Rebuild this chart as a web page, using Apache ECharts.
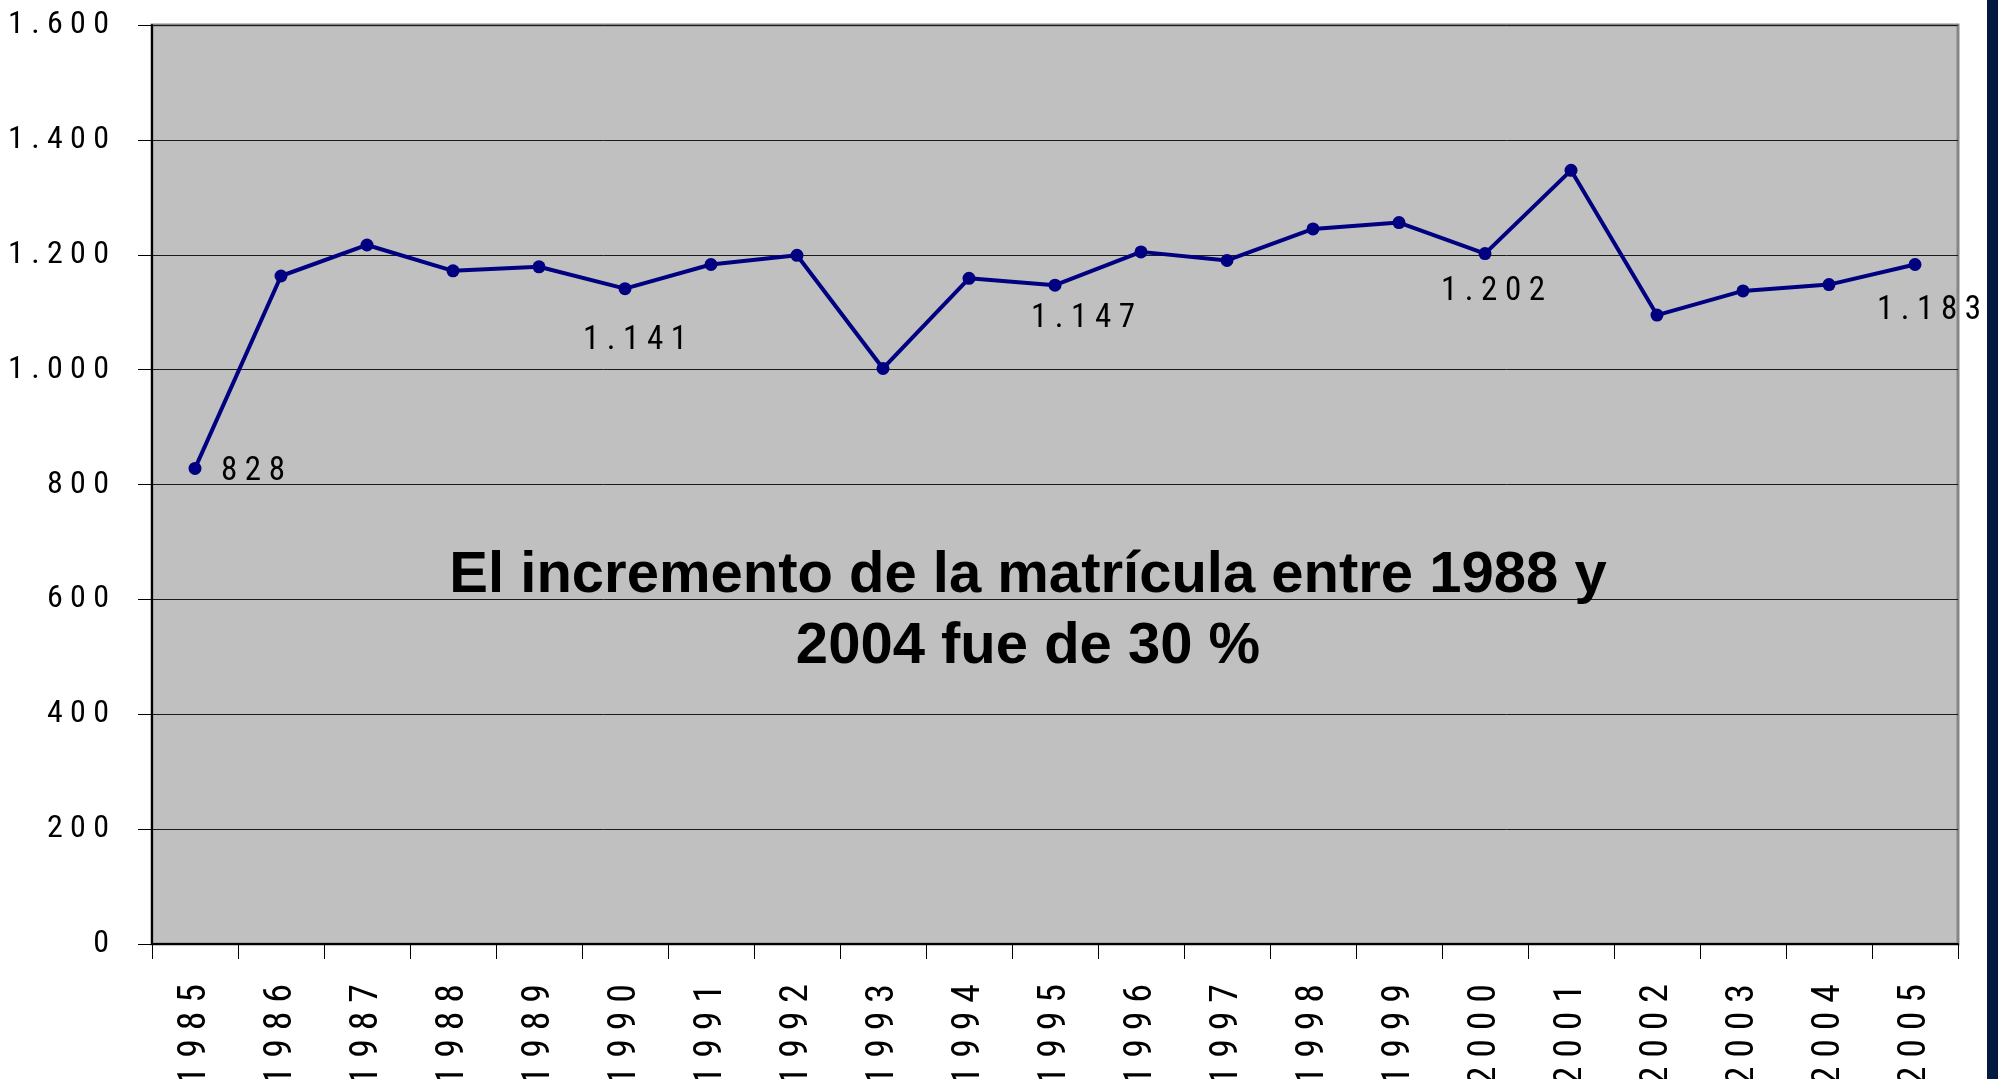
<!DOCTYPE html>
<html>
<head>
<meta charset="utf-8">
<script src="https://cdn.jsdelivr.net/npm/echarts@6/dist/echarts.min.js"></script>
<style>
	html, body { margin: 0; padding: 0; background: #ffffff; }
	#main { width: 1998px; height: 1079px; }
</style>
</head>
<body>
<div id="main"></div>
<script>
	// años y matrícula (lectura del gráfico)
	var years = ['1985', '1986', '1987', '1988', '1989', '1990', '1991', '1992', '1993', '1994', '1995',
		'1996', '1997', '1998', '1999', '2000', '2001', '2002', '2003', '2004', '2005'];
	var matricula = [828, 1163, 1217, 1172, 1179, 1141, 1183, 1199, 1002, 1159, 1147,
		1205, 1190, 1245, 1256, 1202, 1347, 1095, 1137, 1148, 1183];
	// puntos con etiqueta y su desplazamiento
	var labelYears = ['1985', '1990', '1995', '2000', '2005'];
	var labelOffsets = [[58, 3], [10, 52], [28, 34], [8, 38], [14, 46]];
	var yTicks = [0, 200, 400, 600, 800, 1000, 1200, 1400, 1600];
	var nota = ['El incremento de la matrícula entre 1988 y', '2004 fue de 30 %'];

	var narrow = "'Roboto Condensed', 'DejaVu Sans Condensed', sans-serif";

	function miles(v) {
		return String(v).replace(/\B(?=(\d{3})+(?!\d))/g, '.');
	}
	function espaciar(s) {
		return s.split('').join(' ');
	}

	var seriesData = matricula.map(function(v, i) {
		var k = labelYears.indexOf(years[i]);
		if (k < 0) return v;
		return {
			value: v,
			label: {
				show: true,
				position: 'inside',
				align: 'center',
				verticalAlign: 'middle',
				offset: labelOffsets[k]
			}
		};
	});

	var myChart = echarts.init(document.getElementById('main'));

	var option = {
		backgroundColor: '#ffffff',
		animation: false,
		grid: {
			left: 152,
			right: 40,
			top: 25,
			bottom: 135,
			outerBoundsMode: 'none',
			containLabel: false,
			show: true,
			backgroundColor: '#c0c0c0',
			borderColor: '#868686',
			borderWidth: 3
		},
		xAxis: {
			type: 'category',
			data: years,
			boundaryGap: true,
			axisLine: {
				lineStyle: { color: '#000000', width: 2 }
			},
			axisTick: {
				show: true,
				interval: 0,
				length: 15,
				lineStyle: { color: '#000000', width: 1 }
			},
			axisLabel: {
				interval: 0,
				rotate: 90,
				margin: 40,
				color: '#000000',
				fontFamily: narrow,
				fontSize: 38,
				formatter: function(v) { return espaciar(v); }
			},
			splitLine: { show: false }
		},
		yAxis: {
			type: 'value',
			min: yTicks[0],
			max: yTicks[yTicks.length - 1],
			interval: yTicks[1] - yTicks[0],
			axisLine: {
				show: true,
				lineStyle: { color: '#000000', width: 2 }
			},
			axisTick: {
				show: true,
				length: 14,
				lineStyle: { color: '#000000', width: 1 }
			},
			axisLabel: {
				margin: 43,
				color: '#000000',
				fontFamily: narrow,
				fontSize: 32,
				formatter: function(v) { return espaciar(miles(v)); }
			},
			splitLine: {
				lineStyle: { color: '#1a1a1a', width: 1 }
			}
		},
		series: [{
			type: 'line',
			data: seriesData,
			symbol: 'circle',
			symbolSize: 13,
			itemStyle: { color: '#000080' },
			lineStyle: { color: '#000080', width: 4 },
			label: {
				show: false,
				color: '#000000',
				fontFamily: narrow,
				fontSize: 33,
				formatter: function(p) { return espaciar(miles(p.value)); }
			}
		}],
		graphic: [{
			type: 'text',
			x: 1028,
			y: 540,
			style: {
				text: nota.join('\n'),
				align: 'center',
				fill: '#000000',
				font: "bold 58px 'Liberation Sans', Arial, sans-serif",
				lineHeight: 71
			},
			z: 10
		}, {
			type: 'rect',
			shape: { x: 1987, y: 0, width: 11, height: 1079 },
			style: { fill: '#031a40' },
			z: 10
		}]
	};
	myChart.setOption(option);
</script>
</body>
</html>
